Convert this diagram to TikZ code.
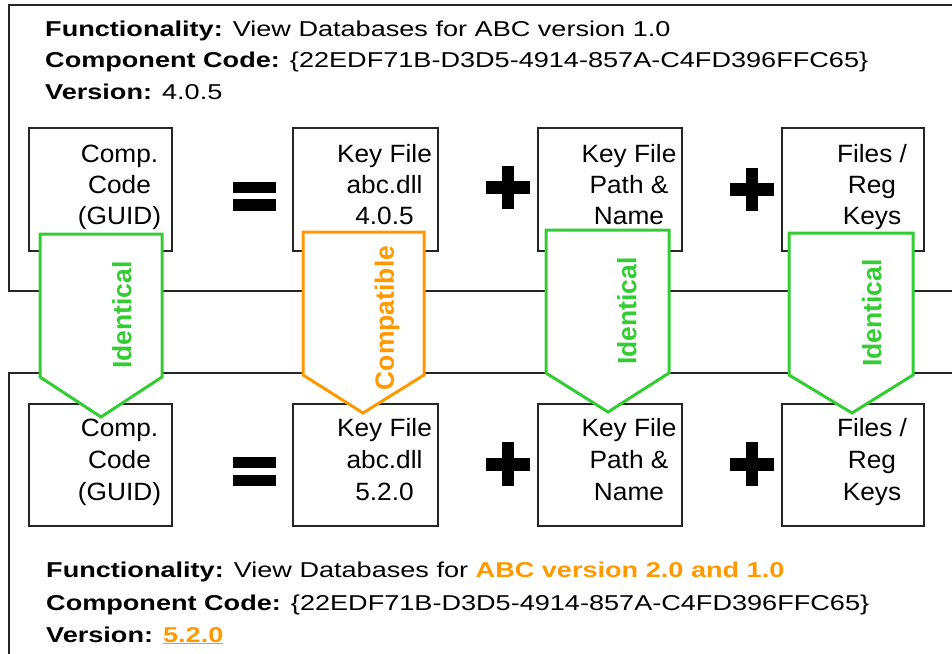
\documentclass[tikz,border=0pt]{standalone}
\usepackage{fontspec}
\setmainfont{Liberation Sans}
\newfontfamily\hdrfont[FakeStretch=1.26]{Liberation Sans}
\newfontfamily\boxfont[FakeStretch=1.05]{Liberation Sans}
\definecolor{okgreen}{RGB}{51,204,51}
\definecolor{warnorange}{RGB}{255,153,0}
\newcommand\firstline{\rule{0pt}{19pt}}

\begin{document}
\begin{tikzpicture}[x=1pt,y=-1pt,
  frame/.style={draw=black!85, line width=2pt},
  part/.style={draw=black!85, line width=1.8pt, anchor=north west,
               minimum width=143pt, minimum height=123pt, inner sep=0pt},
  parttext/.style={anchor=north, inner sep=0pt, align=center,
                   font=\boxfont\fontsize{25}{31}\selectfont},
  hdr/.style={anchor=base west, inner sep=0pt,
              font=\hdrfont\fontsize{21.5}{26}\selectfont},
  chev/.style={fill=white, line width=3pt, line join=miter},
  chevlabel/.style={rotate=90, inner sep=0pt,
                    font=\bfseries\fontsize{26.5}{30}\selectfont},
]
\useasboundingbox (0,0) rectangle (952,653);

% outer frames (open to the right)
\draw[frame] (960,5) -| (9,291) -- (960,291);
\draw[frame] (960,373) -| (9,660);

% header of the old component
\node[hdr] (t1) at (45,36) {\textbf{Functionality:} View Databases for ABC version 1.0};
\node[hdr] (t2) at (45,67) {\textbf{Component Code:} \{22EDF71B-D3D5-4914-857A-C4FD396FFC65\}};
\node[hdr] (t3) at (45,99) {\textbf{Version:} 4.0.5};

% old component parts
\node[part] (a1) at (28,127) {};
\node[part, minimum width=145pt] (a2) at (292,127) {};
\node[part, minimum width=144pt] (a3) at (537,127) {};
\node[part, minimum width=142pt] (a4) at (781,127) {};
\node[parttext] (a1t) at (119.5,143) {\firstline Comp.\\Code\\(GUID)};
\node[parttext] (a2t) at (384.5,143) {\firstline Key File\\abc.dll\\4.0.5};
\node[parttext] (a3t) at (629,143) {\firstline Key File\\Path \&\\Name};
\node[parttext] (a4t) at (872,143) {\firstline Files /\\Reg\\Keys};

% operators
\fill (233,182) rectangle (276,193);
\fill (233,199) rectangle (276,211);
\fill (502,166) rectangle (514,209);
\fill (486,181) rectangle (530,194);
\fill (746,168) rectangle (758,211);
\fill (730,183) rectangle (774,196);

% new component parts
\node[part, minimum height=122pt] (b1) at (28,403) {};
\node[part, minimum width=145pt, minimum height=122pt] (b2) at (292,403) {};
\node[part, minimum width=144pt, minimum height=122pt] (b3) at (537,403) {};
\node[part, minimum width=142pt, minimum height=122pt] (b4) at (781,403) {};
\node[parttext, font=\boxfont\fontsize{25}{32}\selectfont] (b1t) at (119.5,417) {\firstline Comp.\\Code\\(GUID)};
\node[parttext, font=\boxfont\fontsize{25}{32}\selectfont] (b2t) at (384.5,417) {\firstline Key File\\abc.dll\\5.2.0};
\node[parttext, font=\boxfont\fontsize{25}{32}\selectfont] (b3t) at (629,417) {\firstline Key File\\Path \&\\Name};
\node[parttext, font=\boxfont\fontsize{25}{32}\selectfont] (b4t) at (872,417) {\firstline Files /\\Reg\\Keys};

\fill (233,457) rectangle (276,468);
\fill (233,475) rectangle (276,486);
\fill (502,442) rectangle (514,486);
\fill (486,458) rectangle (530,471);
\fill (746,442) rectangle (758,486);
\fill (730,458) rectangle (774,471);

% header of the new component
\node[hdr] (u1) at (46,577) {\textbf{Functionality:} View Databases for \textbf{\color{warnorange}ABC version 2.0 and 1.0}};
\node[hdr] (u2) at (46,610) {\textbf{Component Code:} \{22EDF71B-D3D5-4914-857A-C4FD396FFC65\}};
\node[hdr] (u3) at (46,642) {\textbf{Version:} \textbf{\color{warnorange}\underline{5.2.0}}};

% compatibility chevrons
\draw[chev, draw=okgreen] (40,234) -- (162,234) -- (162,377) -- (101,417) -- (40,377) -- cycle;
\node[chevlabel, text=okgreen] (k1) at (122,315) {Identical};
\draw[chev, draw=warnorange] (303,232) -- (424,232) -- (424,375) -- (363,413) -- (303,375) -- cycle;
\node[chevlabel, text=warnorange] (k2) at (387,318) {Compatible};
\draw[chev, draw=okgreen] (546,230) -- (669,230) -- (669,373) -- (608,412) -- (546,373) -- cycle;
\node[chevlabel, text=okgreen] (k3) at (627,311) {Identical};
\draw[chev, draw=okgreen] (789,233) -- (913,233) -- (913,375) -- (852,413) -- (789,375) -- cycle;
\node[chevlabel, text=okgreen] (k4) at (872,313) {Identical};
\end{tikzpicture}
\end{document}
